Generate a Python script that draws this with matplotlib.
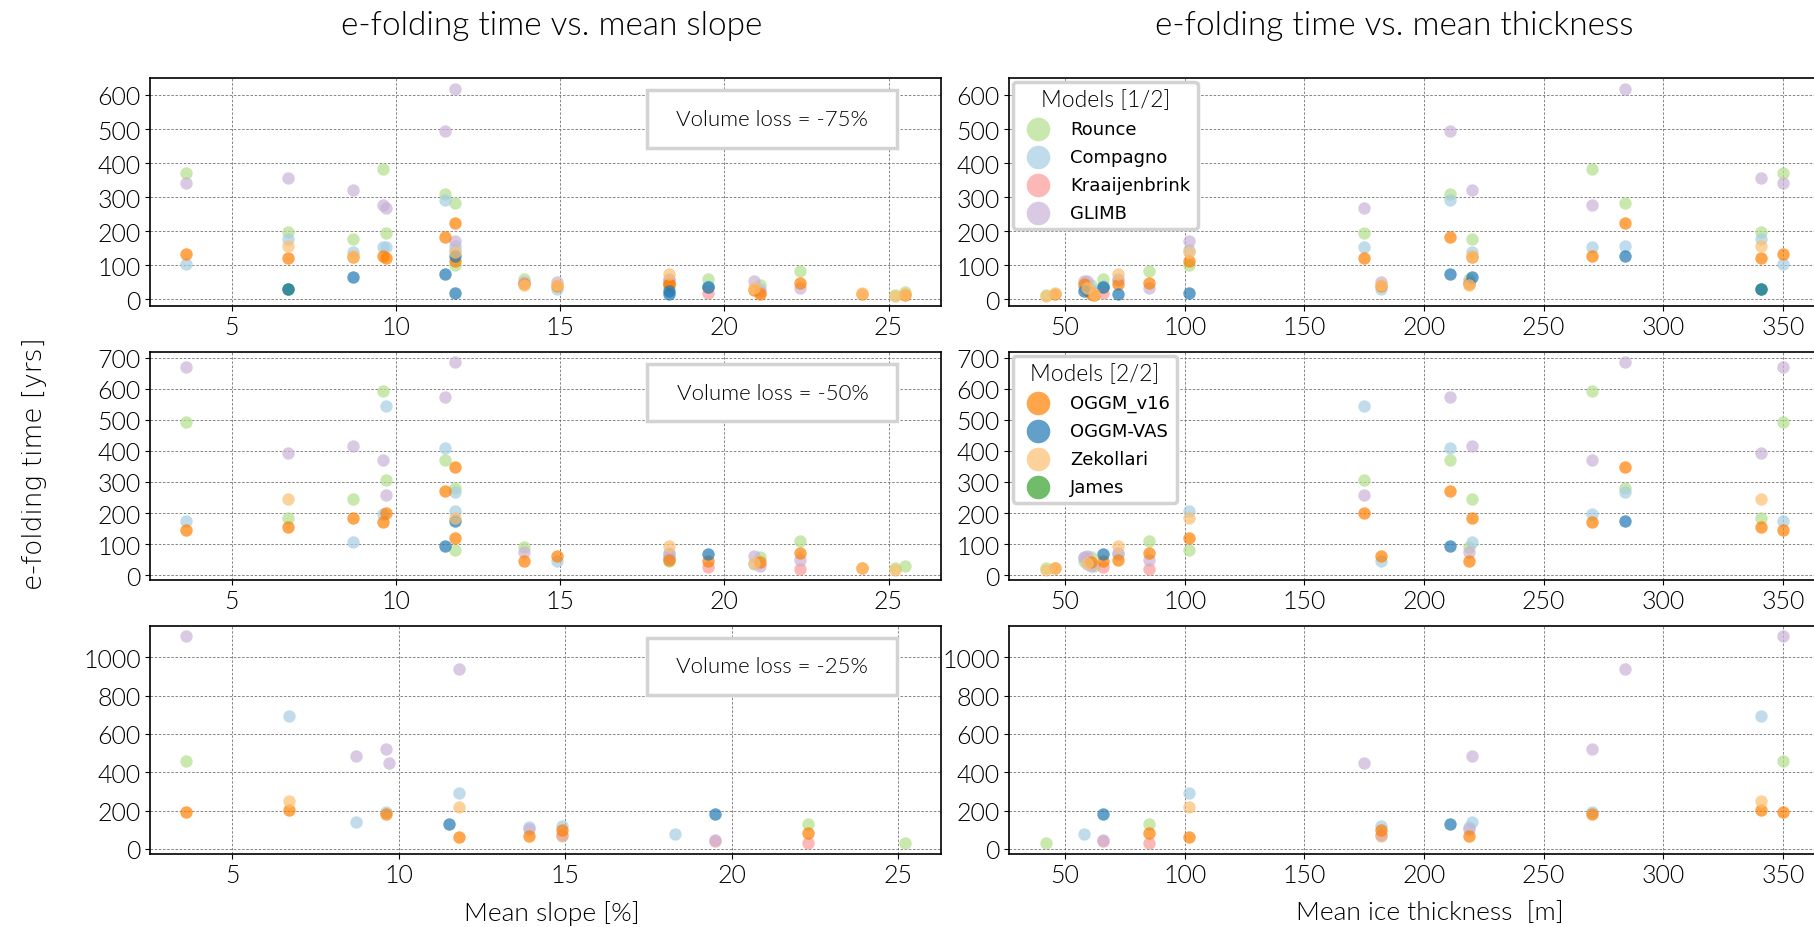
import numpy as np
import matplotlib.pyplot as plt
from matplotlib.patches import Rectangle
from matplotlib.ticker import MultipleLocator

nan = np.nan

# glacier geometry (one entry per glacier)
slope = [3.6, 6.7, 8.7, 9.6, 9.7, 11.5, 11.8, 11.8, 13.9, 14.9,
         18.3, 18.3, 19.5, 20.9, 21.1, 22.3, 24.2, 25.2, 25.5]
thickness = [350, 341, 220, 270, 175, 211, 284, 102, 219, 182,
             58, 72, 66, 59, 61, 85, 46, 42, 62]

models = ['Rounce', 'Compagno', 'Kraaijenbrink', 'GLIMB',
          'OGGM_v16', 'OGGM-VAS', 'Zekollari', 'James']
colors = ['#b2df8a', '#a6cee3', '#fb9a99', '#cab2d6',
          '#ff7f00', '#1f78b4', '#fdbf6f', '#33a02c']
layers = [2, 2, 2, 2, 2, 2, 2, 1.5]
losses = ['-75%', '-50%', '-25%']

# e-folding time [yrs] at 75 % volume loss
rounce_75 = [372, 196, 176, 383, 194, 309, 282, 100, 58, nan, nan, nan, 59, nan, 41, 83, nan, 12, 20]
compagno_75 = [102, 177, 138, 153, 152, 292, 156, 145, 48, 30, 35, 58, 40, nan, 29, nan, nan, nan, nan]
kraai_75 = [nan, nan, nan, nan, nan, nan, nan, nan, nan, nan, nan, nan, 18, nan, 20, nan, nan, nan, nan]
glimb_75 = [342, 356, 320, 277, 268, 495, 619, 170, 50, 50, 54, 55, nan, 54, nan, 32, nan, nan, nan]
oggm_75 = [133, 122, 125, 128, 122, 184, 223, 112, 44, 38, 44, 44, nan, 28, 15, 47, 16, nan, 12]
vas_75 = [nan, 30, 65, nan, nan, 74, 127, 18, nan, nan, 25, 15, 36, nan, nan, nan, nan, nan, nan]
zek_75 = [nan, 155, 128, nan, nan, nan, nan, 140, 42, 42, nan, 74, nan, 32, nan, nan, 18, 10, 16]
james_75 = [nan, 30, nan, nan, nan, nan, nan, nan, nan, nan, nan, nan, 36, nan, nan, nan, nan, nan, nan]

# e-folding time [yrs] at 50 % volume loss
rounce_50 = [492, 185, 245, 594, 306, 369, 279, 81, 90, nan, 45, nan, nan, nan, 60, 110, nan, 22, 30]
compagno_50 = [175, nan, 108, 197, 543, 410, 266, 205, nan, 45, 55, 68, nan, 35, nan, nan, nan, nan, nan]
kraai_50 = [nan, nan, nan, nan, nan, nan, nan, nan, nan, nan, nan, nan, 25, nan, nan, 20, nan, nan, nan]
glimb_50 = [670, 392, 417, 369, 258, 574, 685, nan, 76, nan, 60, 72, nan, 62, 30, 50, nan, nan, nan]
oggm_50 = [146, 156, 185, 172, 200, 271, 347, 120, 47, 61, nan, 48, 45, nan, 42, 70, 24, nan, nan]
vas_50 = [nan, nan, nan, nan, nan, 94, 173, nan, nan, nan, nan, nan, 68, nan, nan, nan, nan, nan, nan]
zek_50 = [nan, 245, nan, nan, nan, nan, nan, 183, nan, nan, nan, 94, nan, 40, nan, nan, 22, 18, nan]
james_50 = [nan] * 19

# e-folding time [yrs] at 25 % volume loss
rounce_25 = [460, nan, nan, nan, nan, nan, nan, nan, nan, 68, nan, nan, nan, nan, nan, 130, nan, 32, nan]
compagno_25 = [nan, 695, 141, 195, nan, nan, nan, 292, 112, 118, 77, nan, nan, nan, nan, nan, nan, nan, nan]
kraai_25 = [nan, nan, nan, nan, nan, nan, nan, nan, nan, 72, nan, nan, 42, nan, nan, 29, nan, nan, nan]
glimb_25 = [1111, nan, 486, 522, 447, nan, 940, nan, 106, nan, nan, nan, 44, nan, nan, nan, nan, nan, nan]
oggm_25 = [193, 203, nan, 180, nan, nan, nan, 64, 68, 99, nan, nan, nan, nan, nan, 81, nan, nan, nan]
vas_25 = [nan, nan, nan, nan, nan, 132, nan, nan, nan, nan, nan, nan, 181, nan, nan, nan, nan, nan, nan]
zek_25 = [nan, 249, nan, nan, nan, nan, nan, 216, nan, nan, nan, nan, nan, nan, nan, nan, nan, nan, nan]
james_25 = [nan] * 19

efold = {
    '-75%': [rounce_75, compagno_75, kraai_75, glimb_75, oggm_75, vas_75, zek_75, james_75],
    '-50%': [rounce_50, compagno_50, kraai_50, glimb_50, oggm_50, vas_50, zek_50, james_50],
    '-25%': [rounce_25, compagno_25, kraai_25, glimb_25, oggm_25, vas_25, zek_25, james_25],
}
ystep = {'-75%': 100, '-50%': 100, '-25%': 200}

LIGHT = dict(family='Lato', fontweight=300)

fig = plt.figure(figsize=(18.15, 9.28), dpi=100)
bottoms = [0.669, 0.374, 0.079]
height = 0.2457

axes = []
for i, loss in enumerate(losses):
    axl = fig.add_axes([0.0826, bottoms[i], 0.4358, height])
    axr = fig.add_axes([0.5559, bottoms[i], 0.4468, height])
    for ax, x in ((axl, slope), (axr, thickness)):
        for name, col, z, vals in zip(models, colors, layers, efold[loss]):
            ax.scatter(x, vals, s=80, color=col, alpha=0.7, linewidths=0,
                       label=name, zorder=z)
        ax.yaxis.set_major_locator(MultipleLocator(ystep[loss]))
        ax.grid(True, ls=(0, (3, 2)), lw=0.6, color='0.45')
        ax.set_axisbelow(True)
        for sp in ax.spines.values():
            sp.set_linewidth(1.2)
        ax.tick_params(labelsize=18, pad=3)
        for lab in ax.get_xticklabels() + ax.get_yticklabels():
            lab.set_fontfamily('Lato')
            lab.set_fontweight(300)
    # volume loss box
    axl.add_patch(Rectangle((0.628, 0.695), 0.317, 0.253, transform=axl.transAxes,
                            fc='white', ec='lightgray', lw=2.5, zorder=5))
    axl.text(0.787, 0.822, 'Volume loss = ' + loss, transform=axl.transAxes,
             ha='center', va='center', fontsize=16, zorder=6, **LIGHT)
    axes.append((axl, axr))

# model legends split over the two upper right panels
for (k0, k1), ax, title in (((0, 4), axes[0][1], 'Models [1/2]'),
                            ((4, 8), axes[1][1], 'Models [2/2]')):
    handles, labels = ax.get_legend_handles_labels()
    leg = ax.legend(handles[k0:k1], labels[k0:k1], title=title, loc='upper left',
                    fontsize=13, title_fontsize=16.5, markerscale=1.9,
                    labelspacing=0.55, borderaxespad=0.2, framealpha=1)
    leg.get_frame().set_edgecolor('lightgray')
    leg.get_frame().set_linewidth(2.5)
    leg.get_title().set_fontfamily('Lato')
    leg.get_title().set_fontweight(300)

fig.text(0.304, 0.972, 'e-folding time vs. mean slope', ha='center', va='center', fontsize=24, **LIGHT)
fig.text(0.768, 0.972, 'e-folding time vs. mean thickness', ha='center', va='center', fontsize=24, **LIGHT)
fig.text(0.304, 0.016, 'Mean slope [%]', ha='center', va='center', fontsize=19, **LIGHT)
fig.text(0.788, 0.016, 'Mean ice thickness  [m]', ha='center', va='center', fontsize=19, **LIGHT)
fig.text(0.019, 0.50, 'e-folding time [yrs]', ha='center', va='center', rotation=90,
         fontsize=19, family='DejaVu Sans', fontweight='light')

fig.savefig('out.png', dpi=100)
